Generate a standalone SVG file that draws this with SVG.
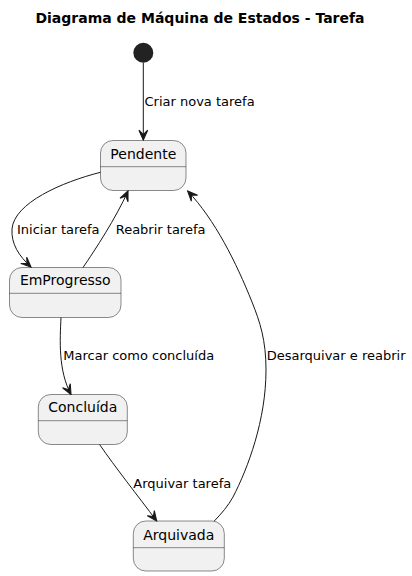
<svg xmlns="http://www.w3.org/2000/svg" width="412" height="576" viewBox="0 0 412 576">
<style>
.st{fill:#F1F1F1;stroke:#181818;stroke-width:0.5}
.dv{stroke:#181818;stroke-width:0.5}
.nm{font-family:"DejaVu Sans",sans-serif;font-size:14px;fill:#000;text-anchor:middle}
.lb{font-family:"DejaVu Sans",sans-serif;font-size:13px;fill:#000}
.ed{fill:none;stroke:#181818;stroke-width:1;marker-end:url(#ah)}
</style>
<defs>
<marker id="ah" markerUnits="userSpaceOnUse" markerWidth="12" markerHeight="12" viewBox="-10 -5 11 10" refX="0" refY="0" orient="auto">
<path d="M0,0 L-9,-4 L-5,0 L-9,4 Z" fill="#181818" stroke="#181818" stroke-width="1"/>
</marker>
</defs>
<rect width="412" height="576" fill="#FFFFFF"/>
<text x="200" y="23" font-family="DejaVu Sans,sans-serif" font-size="14" font-weight="bold" text-anchor="middle">Diagrama de Máquina de Estados - Tarefa</text>
<g id="start"><circle cx="143.3" cy="52.7" r="10" fill="#222222"/></g>
<g id="Pendente"><rect class="st" x="100.5" y="140.5" width="85.5" height="50" rx="12.5"/><line class="dv" x1="100.5" y1="166.7" x2="186" y2="166.7"/><text class="nm" x="143.3" y="158.5">Pendente</text></g>
<g id="EmProgresso"><rect class="st" x="9.5" y="267.5" width="111.5" height="50" rx="12.5"/><line class="dv" x1="9.5" y1="293.3" x2="121" y2="293.3"/><text class="nm" x="65.3" y="285.2">EmProgresso</text></g>
<g id="Concluida"><rect class="st" x="38.3" y="394.5" width="89" height="50" rx="12.5"/><line class="dv" x1="38.3" y1="420.7" x2="127.3" y2="420.7"/><text class="nm" x="82.8" y="412">Concluída</text></g>
<g id="Arquivada"><rect class="st" x="133.3" y="521" width="91" height="50" rx="12.5"/><line class="dv" x1="133.3" y1="547.7" x2="224.3" y2="547.7"/><text class="nm" x="178.8" y="539.5">Arquivada</text></g>
<g id="connectors">
<path class="ed" d="M143.3,62.7 L143.3,140"/>
<text class="lb" x="144.5" y="106">Criar nova tarefa</text>
<path class="ed" d="M100.5,172.3 C62,182 14,203 12,229 C11,244 19,256 31,267"/>
<text class="lb" x="17" y="233.8">Iniciar tarefa</text>
<path class="ed" d="M83,267.5 C95,250 116,218 128,191"/>
<text class="lb" x="115.7" y="233.8">Reabrir tarefa</text>
<path class="ed" d="M214.3,521 C222,513 228,506 233,497 C248,468 266,420 266,370 C266,340 260,322 252,302 C236,262 215,220 187.7,191"/>
<text class="lb" x="266.7" y="359.5">Desarquivar e reabrir</text>
<path class="ed" d="M61,317.5 C60,340 58,370 71,394.5"/>
<text class="lb" x="63.3" y="359.5">Marcar como concluída</text>
<path class="ed" d="M99.6,444.5 C115,467 138,496 156.7,521"/>
<text class="lb" x="133.3" y="487.8">Arquivar tarefa</text>
</g>
</svg>
